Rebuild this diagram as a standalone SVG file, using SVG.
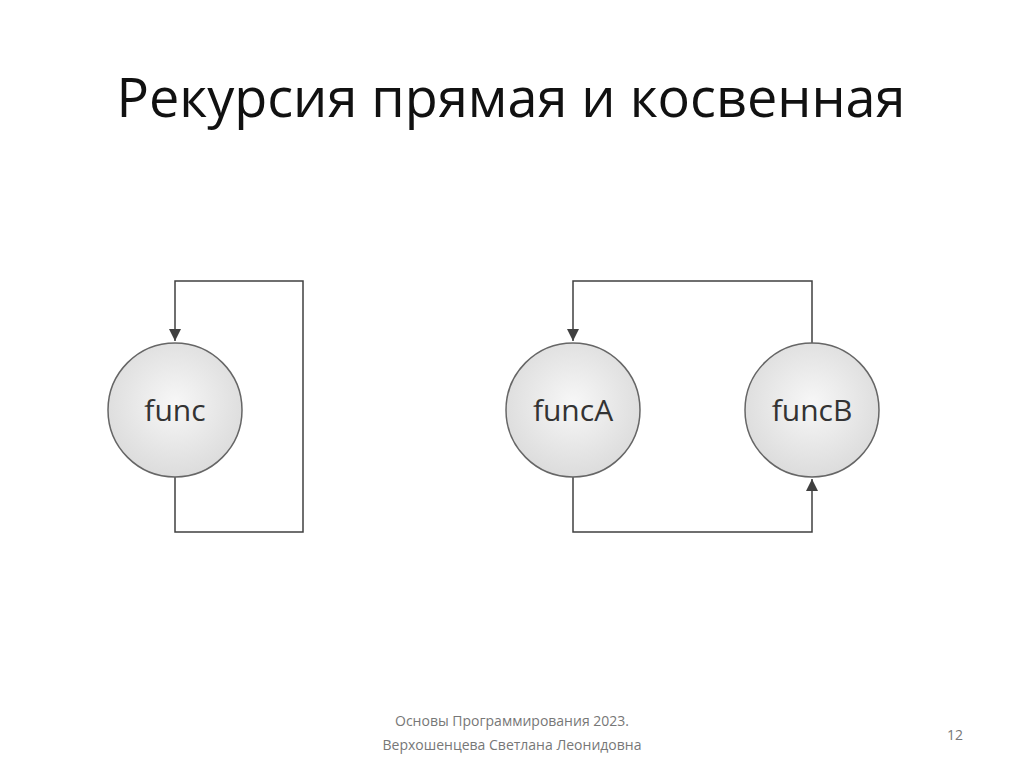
<svg xmlns="http://www.w3.org/2000/svg" width="1024" height="767" viewBox="0 0 1024 767">
<defs>
<radialGradient id="g" cx="50%" cy="45%" r="55%"><stop offset="0" stop-color="#f7f7f7"/><stop offset="1" stop-color="#dcdcdc"/></radialGradient>
<marker id="a" markerWidth="12" markerHeight="14" refX="12" refY="6" orient="auto" markerUnits="userSpaceOnUse" viewBox="0 0 12 12"><path d="M0,0 L12,6 L0,12 Z" fill="#404040"/></marker>
</defs>
<style>
.n{fill:url(#g);stroke:#666;stroke-width:1.5}
.t{font-family:"Open Sans","Liberation Sans",sans-serif;font-size:30px;fill:#333;text-anchor:middle}
.c{fill:none;stroke:#404040;stroke-width:1.5}
</style>
<rect width="1024" height="767" fill="#fff"/>
<text x="511" y="117" font-family="Open Sans, Liberation Sans, sans-serif" font-size="54" fill="#111" text-anchor="middle">Рекурсия прямая и косвенная</text>
<g id="connectors">
<path class="c" d="M175,477 V532 H303 V281 H175 V341" marker-end="url(#a)"/>
<path class="c" d="M573,477 V532 H812 V479" marker-end="url(#a)"/>
<path class="c" d="M812,343 V281 H573 V341" marker-end="url(#a)"/>
</g>
<g id="func"><circle class="n" cx="175" cy="410" r="67"/><text class="t" x="175" y="421">func</text></g>
<g id="funcA"><circle class="n" cx="573" cy="410" r="67"/><text class="t" x="573" y="421">funcA</text></g>
<g id="funcB"><circle class="n" cx="812" cy="410" r="67"/><text class="t" x="812" y="421">funcB</text></g>
<g font-family="Open Sans, Liberation Sans, sans-serif" font-size="14" fill="#777" text-anchor="middle">
<text x="512" y="726">Основы Программирования 2023.</text>
<text x="512" y="750">Верхошенцева Светлана Леонидовна</text>
<text x="955" y="740">12</text>
</g>
</svg>
